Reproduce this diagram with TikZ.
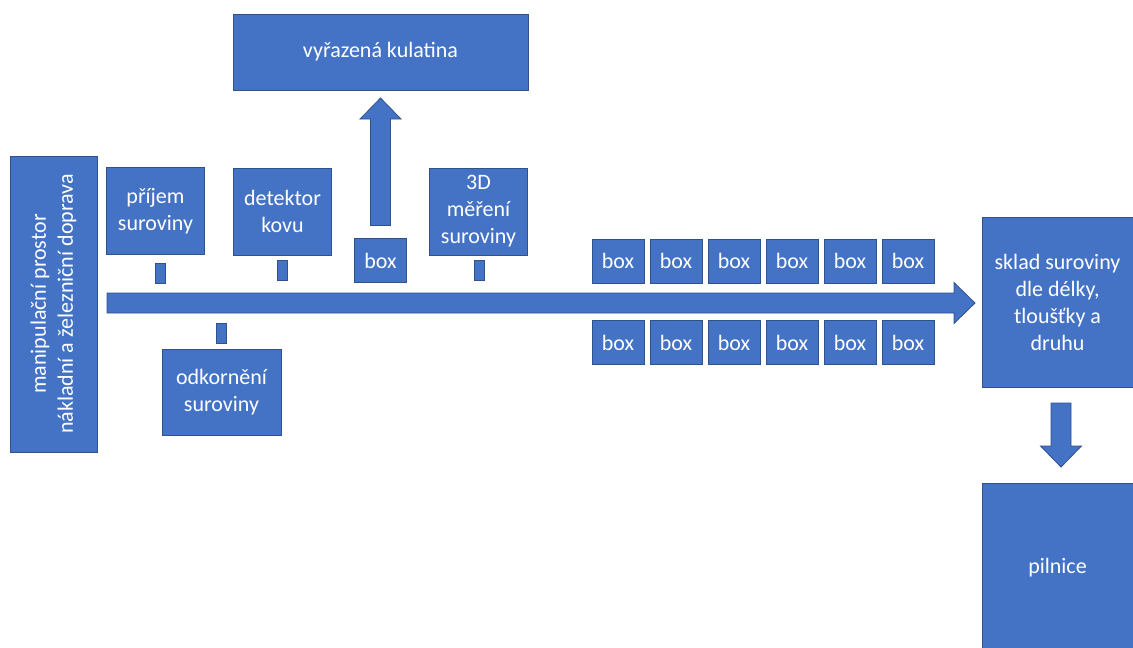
\documentclass[tikz,border=0pt]{standalone}
\usepackage{fontspec}
\setmainfont{Carlito}
\usetikzlibrary{positioning, calc}
\definecolor{flowblue}{HTML}{4472C4}
\definecolor{flowedge}{HTML}{2F528F}

\begin{document}
\begin{tikzpicture}[x=1pt, y=-1pt,
    box/.style={rectangle, draw=flowedge, fill=flowblue, line width=0.8pt, text=white,
                align=center, inner sep=0pt, outer sep=0pt, font=\fontsize{22}{27}\selectfont},
    stepbox/.style={box, minimum width=98pt, minimum height=87pt},
    smallbox/.style={box, minimum width=52pt, minimum height=44pt},
    tick/.style={box, minimum width=10pt, minimum height=20pt},
    fat/.style={draw=flowedge, fill=flowblue, line width=0.8pt,
      to path={let \p1=(\tikztostart), \p2=(\tikztotarget),
        \n1={atan2(\y2-\y1,\x2-\x1)}, \p3=($(\p2)!21pt!(\p1)$) in
        ([shift={({\n1+90}:10pt)}]\p1) -- ([shift={({\n1+90}:10pt)}]\p3)
        -- ([shift={({\n1+90}:20.5pt)}]\p3) -- (\p2)
        -- ([shift={({\n1-90}:20.5pt)}]\p3) -- ([shift={({\n1-90}:10pt)}]\p3)
        -- ([shift={({\n1-90}:10pt)}]\p1) -- cycle}}]

    \useasboundingbox (0,0) rectangle (1133,648);

    % yard and stations
    \node[box, rotate=90, minimum width=296pt, minimum height=87pt] (yard) at (53.5,304)
        {manipulační prostor\\nákladní a železniční doprava};
    \node[stepbox] (intake) at (155.5,211) {příjem\\suroviny};
    \node[stepbox] (detector) at (282.5,211.5) {detektor\\kovu};
    \node[stepbox] (scan) at (478.5,211.5) {3D\\měření\\suroviny};
    \node[box, minimum width=119pt, minimum height=86pt] (debark) at (221.5,392) {odkornění\\suroviny};
    \node[smallbox] (reject) at (380.5,260.5) {box};
    \node[box, minimum width=295pt, minimum height=76pt] (rejected) at (380.5,52) {vyřazená kulatina};
    \node[box, minimum width=151pt, minimum height=170pt] (store) at (1057.5,302)
        {sklad suroviny\\dle délky,\\tloušťky a\\druhu};
    \node[box, minimum width=151pt, minimum height=170pt] (saw) at (1057.5,568) {pilnice};

    % sorting boxes
    \foreach \i in {0,...,5} {
        \node[smallbox] (upper\i) at (618+58*\i, 261) {box};
        \node[smallbox] (lower\i) at (618+58*\i, 342.5) {box};
    }

    % ticks
    \node[tick, below=8.5pt of intake, xshift=4.5pt] (intaketick) {};
    \node[tick, below=5pt of detector] (detectortick) {};
    \node[tick, below=5pt of scan, xshift=1pt] (scantick) {};
    \node[tick, above=6pt of debark] (debarktick) {};

    % arrows
    \coordinate (beltstart) at (107,303);
    \coordinate (beltend) at ($(store.west)+(-7,1)$);
    \coordinate (upstart) at ($(reject.north)+(0,-13)$);
    \coordinate (uptip) at ($(rejected.south)+(0,8)$);
    \coordinate (downstart) at ($(store.south)+(3.5,16)$);
    \coordinate (downtip) at ($(saw.north)+(3.5,-16)$);
    \draw[fat] (beltstart) to (beltend);
    \draw[fat] (upstart) to (uptip);
    \draw[fat] (downstart) to (downtip);
\end{tikzpicture}
\end{document}
